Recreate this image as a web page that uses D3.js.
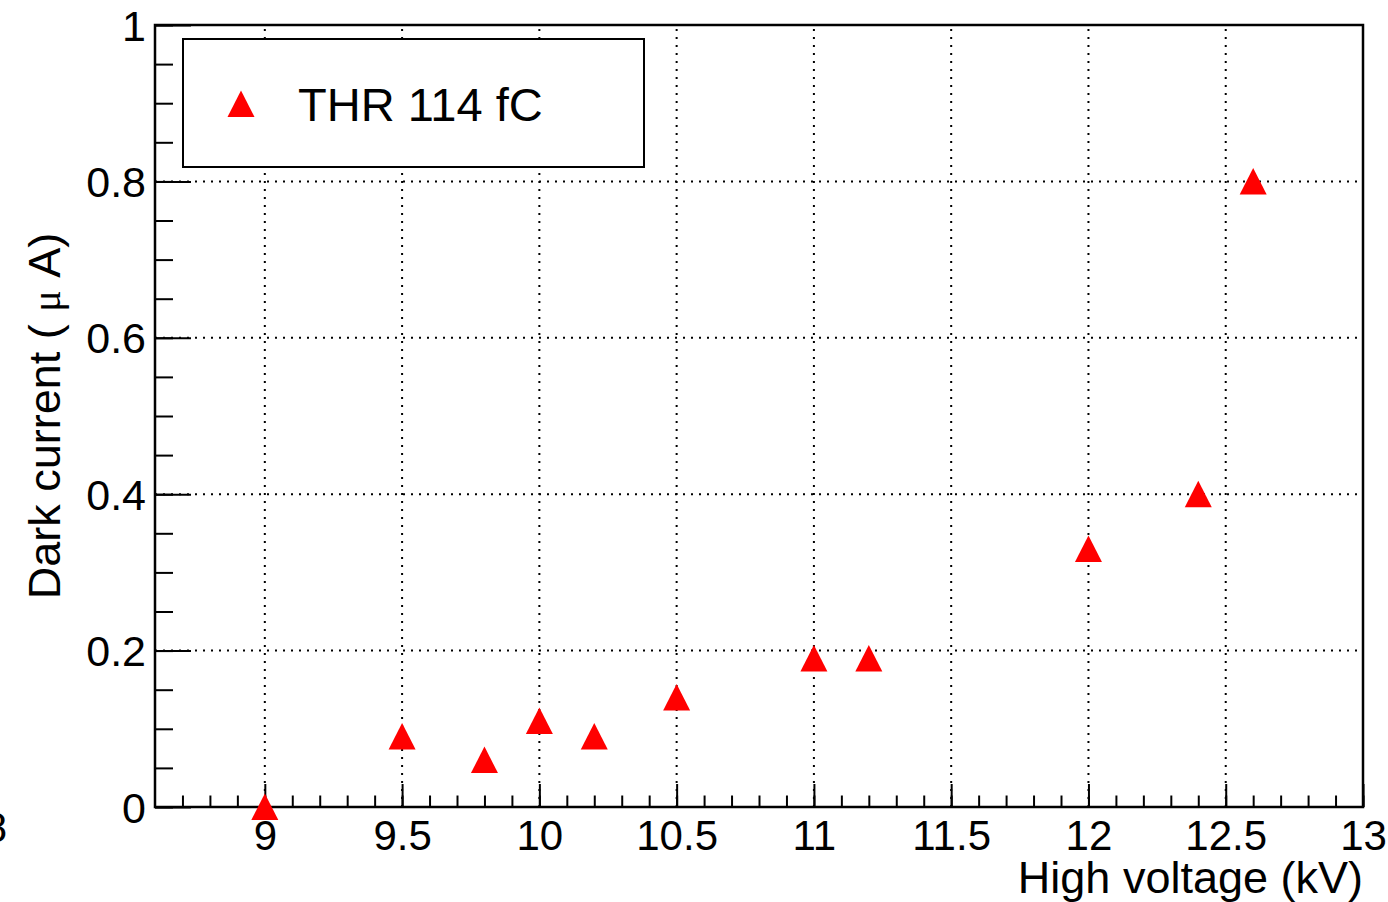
<!DOCTYPE html>
<html><head><meta charset="utf-8">
<script src="https://cdn.jsdelivr.net/npm/d3@7"></script>
<style>body{margin:0;background:#fff}svg{display:block}text{font-family:"Liberation Sans",Arial,sans-serif}</style>
</head><body>
<svg id="c" width="1388" height="902"></svg>
<script>
const voltage = [9, 9.5, 9.8, 10, 10.2, 10.5, 11, 11.2, 12, 12.4, 12.6];
const current = [0, 0.09, 0.06, 0.11, 0.09, 0.14, 0.19, 0.19, 0.33, 0.40, 0.80];
const xTicks = [9, 9.5, 10, 10.5, 11, 11.5, 12, 12.5, 13];
const xTickLabels = ["9", "9.5", "10", "10.5", "11", "11.5", "12", "12.5", "13"];
const yTicks = [0, 0.2, 0.4, 0.6, 0.8, 1];
const yTickLabels = ["0", "0.2", "0.4", "0.6", "0.8", "1"];
const seriesName = "THR 114 fC";

const svg = d3.select("#c");
const L = 155, R = 1363, T = 25, B = 807;
const x = d3.scaleLinear().domain([8.6, 13]).range([L, R]);
const y = d3.scaleLinear().domain([0, 1]).range([B, T]);

// grid
const grid = svg.append("g").attr("stroke", "#000").attr("stroke-width", 2).attr("stroke-dasharray", "2 6");
grid.selectAll("line.gx").data(xTicks.filter(d => d < 13)).join("line")
  .attr("x1", d => x(d)).attr("x2", d => x(d)).attr("y1", B).attr("y2", T);
grid.selectAll("line.gy").data(yTicks.filter(d => d > 0 && d < 1)).join("line")
  .attr("x1", L).attr("x2", R).attr("y1", d => y(d)).attr("y2", d => y(d));

// x axis
const xMinor = d3.range(87, 131).map(i => i / 10).filter(v => v >= 8.6 && v <= 13);
const xAxisMinor = d3.axisBottom(x).tickValues(xMinor).tickSizeInner(-11.5).tickSizeOuter(0).tickFormat("");
const xAxisMajor = d3.axisBottom(x).tickValues(xTicks).tickSizeInner(-23).tickSizeOuter(0).tickPadding(30)
  .tickFormat((d, i) => xTickLabels[i]);
const gxm = svg.append("g").attr("transform", `translate(0,${B})`).call(xAxisMinor);
const gx = svg.append("g").attr("transform", `translate(0,${B})`).call(xAxisMajor);
[gxm, gx].forEach(g => { g.select(".domain").remove(); g.selectAll("line").attr("stroke", "#000").attr("stroke-width", 2); });
gx.selectAll("text").attr("font-size", 42).attr("fill", "#000").attr("dy", 0).attr("y", 43)
  .attr("font-family", "Liberation Sans, Arial, sans-serif");

// y axis
const yMinor = d3.range(0, 21).map(i => i / 20);
const yAxisMinor = d3.axisLeft(y).tickValues(yMinor).tickSizeInner(-18).tickSizeOuter(0).tickFormat("");
const yAxisMajor = d3.axisLeft(y).tickValues(yTicks).tickSizeInner(-36).tickSizeOuter(0).tickPadding(8)
  .tickFormat((d, i) => yTickLabels[i]);
const gym = svg.append("g").attr("transform", `translate(${L},0)`).call(yAxisMinor);
const gy = svg.append("g").attr("transform", `translate(${L},0)`).call(yAxisMajor);
[gym, gy].forEach(g => { g.select(".domain").remove(); g.selectAll("line").attr("stroke", "#000").attr("stroke-width", 2); });
gy.selectAll("text").attr("font-size", 43).attr("fill", "#000").attr("x", -9).attr("dy", 0).attr("y", 15)
  .attr("font-family", "Liberation Sans, Arial, sans-serif");

// frame
svg.append("rect").attr("x", L).attr("y", T).attr("width", R - L).attr("height", B - T)
  .attr("fill", "none").attr("stroke", "#000").attr("stroke-width", 2.5);

// stray cut-off label at left edge
svg.append("text").attr("x", 7).attr("y", 842).attr("text-anchor", "end").attr("font-size", 42).text("8");

// axis titles
svg.append("text").attr("x", R).attr("y", 893).attr("text-anchor", "end").attr("font-size", 45).text("High voltage (kV)");
const yt = svg.append("text").attr("transform", `translate(60,${(T + B) / 2}) rotate(-90)`)
  .attr("text-anchor", "middle").attr("font-size", 45);
yt.append("tspan").text("Dark current ( ");
yt.append("tspan").attr("font-family", "Liberation Serif, serif").attr("font-size", 40).text("μ");
yt.append("tspan").text(" A)");

// legend
svg.append("rect").attr("x", 183).attr("y", 39).attr("width", 461).attr("height", 128)
  .attr("fill", "#fff").attr("stroke", "#000").attr("stroke-width", 2);
const tri = "M0,-13.5L13.5,13L-13.5,13Z";
svg.append("path").attr("d", tri).attr("fill", "#ff0000").attr("transform", "translate(241,104)");
svg.append("text").attr("x", 298).attr("y", 121).attr("font-size", 47).text(seriesName);

// points
svg.append("g").selectAll("path").data(voltage).join("path")
  .attr("d", tri).attr("fill", "#ff0000")
  .attr("transform", (d, i) => `translate(${x(d)},${y(current[i])})`);
</script>
</body></html>
